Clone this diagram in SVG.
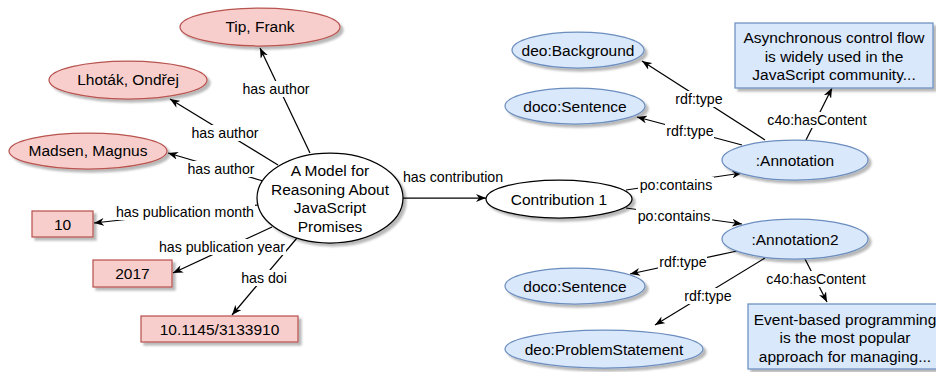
<svg xmlns="http://www.w3.org/2000/svg" width="936" height="372" viewBox="0 0 936 372">
  <defs>
    <filter id="shadow" x="-10%" y="-10%" width="130%" height="140%">
      <feDropShadow dx="3" dy="3" stdDeviation="0.8" flood-color="#000" flood-opacity="0.28"/>
    </filter>
    <marker id="arrow" viewBox="0 0 10 8" markerWidth="10" markerHeight="8" refX="10" refY="4" orient="auto" markerUnits="userSpaceOnUse">
      <path d="M0,0 L10,4 L0,8 L3,4 Z" fill="#000"/>
    </marker>
    <style>
      .pink { fill: #f8cecc; stroke: #b85450; stroke-width: 1.25; filter: url(#shadow); }
      .blue { fill: #dae8fc; stroke: #6c8ebf; stroke-width: 1.25; filter: url(#shadow); }
      .plain { fill: #ffffff; stroke: #000000; stroke-width: 1.25; filter: url(#shadow); }
      .nt { font-family: "Liberation Sans", Arial, sans-serif; font-size: 15.5px; fill: #000; text-anchor: middle; }
      .edge { stroke: #000; stroke-width: 1.25; fill: none; marker-end: url(#arrow); }
      .lbl { font-family: "Liberation Sans", Arial, sans-serif; font-size: 14.2px; fill: #000; text-anchor: middle; }
      .bg { fill: #ffffff; }
    </style>
  </defs>

  <!-- connectors -->
  <g id="connectors">
    <line class="edge" x1="310" y1="153" x2="260" y2="48"/>
    <line class="edge" x1="278" y1="165" x2="170" y2="99"/>
    <line class="edge" x1="263" y1="181" x2="168" y2="153"/>
    <line class="edge" x1="258" y1="205" x2="94" y2="223"/>
    <line class="edge" x1="272" y1="227" x2="173" y2="273"/>
    <line class="edge" x1="297" y1="238" x2="232" y2="315"/>
    <line class="edge" x1="403" y1="198" x2="486" y2="198"/>
    <line class="edge" x1="626" y1="190" x2="742" y2="173"/>
    <line class="edge" x1="626" y1="208" x2="742" y2="224"/>
    <line class="edge" x1="765" y1="140" x2="642" y2="61"/>
    <line class="edge" x1="742" y1="145" x2="637" y2="117"/>
    <line class="edge" x1="806" y1="140" x2="832" y2="88"/>
    <line class="edge" x1="737" y1="251" x2="630" y2="274"/>
    <line class="edge" x1="765" y1="258" x2="655" y2="325"/>
    <line class="edge" x1="805" y1="259" x2="827" y2="302"/>

    <!-- edge labels -->
    <rect class="bg" x="242" y="81" width="68" height="16"/>
    <text class="lbl" x="276" y="94">has author</text>
    <rect class="bg" x="191" y="125" width="68" height="16"/>
    <text class="lbl" x="225" y="138">has author</text>
    <rect class="bg" x="187" y="161" width="68" height="16"/>
    <text class="lbl" x="221" y="174">has author</text>
    <rect class="bg" x="115" y="204" width="140" height="16"/>
    <text class="lbl" x="185" y="217">has publication month</text>
    <rect class="bg" x="158" y="239" width="128" height="16"/>
    <text class="lbl" x="222" y="252">has publication year</text>
    <rect class="bg" x="240" y="270" width="48" height="16"/>
    <text class="lbl" x="264" y="283">has doi</text>
    <text class="lbl" x="453" y="182">has contribution</text>
    <rect class="bg" x="638" y="177" width="76" height="16"/>
    <text class="lbl" x="676" y="190">po:contains</text>
    <rect class="bg" x="636" y="208" width="76" height="16"/>
    <text class="lbl" x="674" y="221">po:contains</text>
    <rect class="bg" x="675" y="91" width="49" height="16"/>
    <text class="lbl" x="699" y="104">rdf:type</text>
    <rect class="bg" x="665" y="123" width="49" height="16"/>
    <text class="lbl" x="690" y="136">rdf:type</text>
    <rect class="bg" x="766" y="112" width="102" height="16"/>
    <text class="lbl" x="817" y="125">c4o:hasContent</text>
    <rect class="bg" x="658" y="254" width="49" height="16"/>
    <text class="lbl" x="683" y="267">rdf:type</text>
    <rect class="bg" x="683" y="288" width="49" height="16"/>
    <text class="lbl" x="708" y="301">rdf:type</text>
    <rect class="bg" x="765" y="271" width="102" height="16"/>
    <text class="lbl" x="816" y="284">c4o:hasContent</text>
  </g>

  <!-- paper and its metadata -->
  <g id="paper">
    <ellipse class="plain" cx="330" cy="198" rx="73" ry="45"/>
    <text class="nt" x="330" y="176">A Model for</text>
    <text class="nt" x="330" y="194.5">Reasoning About</text>
    <text class="nt" x="330" y="213">JavaScript</text>
    <text class="nt" x="330" y="231.5">Promises</text>
  </g>
  <g id="author-tip">
    <ellipse class="pink" cx="260" cy="27" rx="80" ry="19"/>
    <text class="nt" x="260" y="32">Tip, Frank</text>
  </g>
  <g id="author-lhotak">
    <ellipse class="pink" cx="128" cy="80" rx="79" ry="19"/>
    <text class="nt" x="128" y="85">Lhoták, Ondřej</text>
  </g>
  <g id="author-madsen">
    <ellipse class="pink" cx="88" cy="151" rx="79" ry="18"/>
    <text class="nt" x="88" y="156">Madsen, Magnus</text>
  </g>
  <g id="month">
    <rect class="pink" x="32" y="211" width="61" height="26"/>
    <text class="nt" x="62.5" y="229.5">10</text>
  </g>
  <g id="year">
    <rect class="pink" x="93" y="260" width="79" height="27"/>
    <text class="nt" x="132.5" y="279">2017</text>
  </g>
  <g id="doi">
    <rect class="pink" x="141" y="316" width="157" height="26"/>
    <text class="nt" x="219.5" y="334.5">10.1145/3133910</text>
  </g>

  <!-- contribution and annotations -->
  <g id="contribution">
    <ellipse class="plain" cx="559" cy="199" rx="73" ry="19"/>
    <text class="nt" x="559" y="204.5">Contribution 1</text>
  </g>
  <g id="annotation">
    <ellipse class="blue" cx="795" cy="160" rx="73" ry="20"/>
    <text class="nt" x="795" y="165.5">:Annotation</text>
  </g>
  <g id="annotation2">
    <ellipse class="blue" cx="795" cy="239" rx="73" ry="20"/>
    <text class="nt" x="795" y="244.5">:Annotation2</text>
  </g>
  <g id="deo-background">
    <ellipse class="blue" cx="578" cy="50" rx="66" ry="18"/>
    <text class="nt" x="578" y="55.5">deo:Background</text>
  </g>
  <g id="doco-sentence-1">
    <ellipse class="blue" cx="575" cy="106" rx="70" ry="18"/>
    <text class="nt" x="575" y="111.5">doco:Sentence</text>
  </g>
  <g id="doco-sentence-2">
    <ellipse class="blue" cx="575" cy="286" rx="70" ry="18"/>
    <text class="nt" x="575" y="291.5">doco:Sentence</text>
  </g>
  <g id="deo-problem">
    <ellipse class="blue" cx="604" cy="349" rx="99" ry="19"/>
    <text class="nt" x="604" y="354.5">deo:ProblemStatement</text>
  </g>
  <g id="content-1">
    <rect class="blue" x="735" y="23" width="198" height="65"/>
    <text class="nt" x="834" y="43">Asynchronous control flow</text>
    <text class="nt" x="834" y="61.5">is widely used in the</text>
    <text class="nt" x="834" y="80">JavaScript community...</text>
  </g>
  <g id="content-2">
    <rect class="blue" x="748" y="304" width="200" height="65"/>
    <text class="nt" x="845" y="324.5">Event-based programming</text>
    <text class="nt" x="845" y="343">is the most popular</text>
    <text class="nt" x="845" y="361.5">approach for managing...</text>
  </g>
</svg>
